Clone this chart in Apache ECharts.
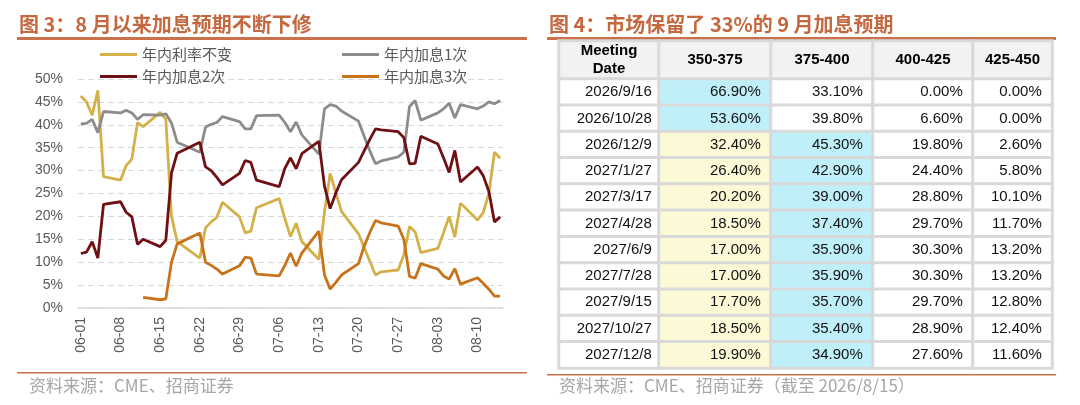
<!DOCTYPE html>
<html>
<head>
<meta charset="utf-8">
<script src="https://cdn.jsdelivr.net/npm/echarts@6/dist/echarts.min.js"></script>
<style>
html,body{margin:0;padding:0;background:#fff;}
#main{width:1080px;height:405px;}
</style>
</head>
<body>
<div id="main"></div>
<script>
// 图3 数据：交易日
var dates = ['06-01','06-02','06-03','06-04','06-05',
    '06-08','06-09','06-10','06-11','06-12',
    '06-15','06-16','06-17','06-18',
    '06-22','06-23','06-24','06-25','06-26',
    '06-29','06-30','07-01','07-02',
    '07-06','07-07','07-08','07-09','07-10',
    '07-13','07-14','07-15','07-16','07-17',
    '07-20','07-21','07-22','07-23','07-24',
    '07-27','07-28','07-29','07-30','07-31',
    '08-03','08-04','08-05','08-06','08-07',
    '08-10','08-11','08-12','08-13','08-14'];
var hold = [46.3,45.0,42.1,47.5,28.7, 27.9,31.1,32.5,40.5,39.6, 42.7,41.2,20.0,14.5,
    10.9,17.5,18.8,19.8,23.1, 19.9,16.4,16.8,21.9, 23.9,19.5,15.6,18.5,14.5,
    10.6,21.0,29.4,25.2,21.1, 16.2,13.2,10.2,7.2,7.9, 8.3,11.6,17.8,16.6,12.1,
    13.0,16.4,20.0,15.5,22.9, 19.2,20.8,25.0,34.0,32.7];
var hike1 = [40.2,40.3,41.2,38.3,42.9, 42.6,43.2,42.6,41.2,42.2, 42.1,42.4,40.4,36.2,
    34.0,39.5,40.1,40.5,41.8, 40.7,39.1,39.1,42.0, 42.1,40.5,38.5,40.6,37.8,
    33.6,43.5,44.4,44.1,43.0, 40.8,37.5,34.3,31.5,32.1, 33.0,34.0,44.0,45.3,41.0,
    42.6,43.5,44.7,41.5,44.4, 43.5,44.1,45.0,44.6,45.3];
var hike2 = [11.9,12.2,14.5,10.9,22.6, 23.2,20.9,19.9,13.9,15.0, 13.4,14.8,29.5,33.8,
    36.2,30.8,30.0,28.5,26.9, 29.4,32.2,31.8,27.9, 26.5,30.5,32.8,30.4,33.7,
    36.4,26.6,21.7,25.1,28.0, 31.8,34.3,36.8,39.1,38.9, 38.5,37.2,31.5,31.6,37.5,
    35.8,32.8,29.6,34.4,27.5, 30.8,28.9,25.5,18.8,19.9];
var hike3 = [null,null,null,null,null, null,null,null,null,2.3, 1.8,2.0,10.0,14.0,
    16.4,10.0,9.3,8.5,7.4, 9.2,11.1,10.9,7.4, 7.0,9.3,12.0,9.1,12.0,
    16.8,7.2,4.1,5.6,7.2, 9.7,13.5,16.5,19.1,18.6, 17.9,15.0,6.9,6.5,9.7,
    8.5,7.0,6.3,8.6,5.2, 6.6,5.4,4.1,2.6,2.6];
var seriesNames = ['年内利率不变','年内加息1次','年内加息2次','年内加息3次'];
var seriesColors = ['#d4b04a','#8c8c8c','#6f1014','#c8731b'];
var yTicks = [0, 50, 5];

// 图4 数据
var meetings = ['2026/9/16','2026/10/28','2026/12/9','2027/1/27','2027/3/17','2027/4/28',
    '2027/6/9','2027/7/28','2027/9/15','2027/10/27','2027/12/8'];
var ranges = ['350-375','375-400','400-425','425-450'];
var p350 = [66.9,53.6,32.4,26.4,20.2,18.5,17.0,17.0,17.7,18.5,19.9];
var p375 = [33.1,39.8,45.3,42.9,39.0,37.4,35.9,35.9,35.7,35.4,34.9];
var p400 = [0.0,6.6,19.8,24.4,28.8,29.7,30.3,30.3,29.7,28.9,27.6];
var p425 = [0.0,0.0,2.6,5.8,10.1,11.7,13.2,13.2,12.8,12.4,11.6];

function pad(n){ return (n < 10 ? '0' : '') + n; }

// 日历日作为类目轴
var allDays = [];
for (var t = Date.UTC(2026,5,1); t <= Date.UTC(2026,7,14); t += 86400000) {
    var dd = new Date(t);
    allDays.push(pad(dd.getUTCMonth()+1) + '-' + pad(dd.getUTCDate()));
}

function pairs(vals){
    var out = [];
    vals.forEach(function(v, i){ if (v != null) out.push([dates[i], v]); });
    return out;
}

var myChart = echarts.init(document.getElementById('main'));

var cjk = '"Noto Sans CJK SC", sans-serif';
var arial = '"Liberation Sans", Arial, sans-serif';

var grids = [{left: 78, top: 79, width: 425, height: 229}];
var xAxes = [{
    gridIndex: 0,
    type: 'category',
    data: allDays,
    boundaryGap: true,
    axisTick: {show: false},
    axisLine: {lineStyle: {color: '#d9d9d9', width: 1.5}},
    axisLabel: {interval: 6, rotate: 90, margin: 9, fontSize: 14, color: '#595959', fontFamily: arial}
}];
var yAxes = [{
    gridIndex: 0,
    type: 'value',
    min: yTicks[0], max: yTicks[1], interval: yTicks[2],
    axisLine: {show: false},
    axisTick: {show: false},
    axisLabel: {formatter: '{value}%', fontSize: 14, color: '#595959', margin: 15, fontFamily: arial},
    splitLine: {lineStyle: {color: '#d9d9d9', type: [6, 4], width: 1}}
}];

var series = [hold, hike1, hike2, hike3].map(function(vals, i){
    return {
        name: seriesNames[i],
        type: 'line',
        xAxisIndex: 0, yAxisIndex: 0,
        data: pairs(vals),
        symbol: 'none',
        color: seriesColors[i],
        lineStyle: {width: 2.8, color: seriesColors[i]}
    };
});

// 图例 2x2
var legendPos = [[95, 42], [337, 42], [95, 64], [337, 64]];
var legends = seriesNames.map(function(n, i){
    return {
        data: [n],
        left: legendPos[i][0], top: legendPos[i][1],
        icon: 'rect', itemWidth: 37, itemHeight: 3, itemGap: 5,
        textStyle: {fontSize: 15, color: '#595959', fontFamily: cjk}
    };
});

// 表格：每列一个表头 grid 和一个表体 grid
var colW = [100, 112, 102, 100, 79];
var tableLeft = 559, headTop = 41, headH = 38, bodyTop = 79, bodyH = 289;
var headers = ['Meeting\nDate'].concat(ranges);
var probCols = [p350, p375, p400, p425];
var cellBorder = '#d9d9d9';

var x0 = tableLeft;
colW.forEach(function(w, c){
    var gh = grids.length;
    grids.push({left: x0, top: headTop, width: w, height: headH});
    grids.push({left: x0, top: bodyTop, width: w, height: bodyH});
    x0 += w;
    [gh, gh + 1].forEach(function(g){
        xAxes.push({gridIndex: g, type: 'category', data: ['c'], show: false});
        yAxes.push({gridIndex: g, type: 'category', inverse: true, show: false,
            data: g === gh ? ['h'] : meetings});
    });
    series.push({
        type: 'heatmap',
        xAxisIndex: gh, yAxisIndex: gh,
        data: [{value: [0, 0, 1], itemStyle: {color: '#f2f2f2'}}],
        itemStyle: {borderColor: cellBorder, borderWidth: 3},
        label: {show: true, formatter: headers[c], fontSize: 15, fontWeight: 'bold',
            color: '#000', fontFamily: arial, lineHeight: 18},
        emphasis: {disabled: true}
    });
    var body = meetings.map(function(m, r){
        var color = '#ffffff';
        if (c > 0) {
            var row = probCols.map(function(col){ return col[r]; });
            var mx = Math.max.apply(null, row);
            if (probCols[c-1][r] === mx) color = '#bff0fa';
            else if (c === 1) color = '#fcf9d6';
        }
        return {value: [0, r, 1], itemStyle: {color: color}};
    });
    series.push({
        type: 'heatmap',
        xAxisIndex: gh + 1, yAxisIndex: gh + 1,
        data: body,
        itemStyle: {borderColor: cellBorder, borderWidth: 3},
        label: {
            show: true, position: 'insideRight', distance: c === 0 ? 9 : 12,
            fontSize: 15, color: '#111', fontFamily: arial,
            formatter: function(p){
                var r = p.data.value[1];
                return c === 0 ? meetings[r] : probCols[c-1][r].toFixed(2) + '%';
            }
        },
        emphasis: {disabled: true}
    });
});

var titleColor = '#c4683f';
var lineColor = '#c9714b';

var option = {
    animation: false,
    backgroundColor: '#fff',
    legend: legends,
    grid: grids,
    xAxis: xAxes,
    yAxis: yAxes,
    series: series,
    graphic: [
        {type: 'text', left: 19, top: 14, style: {text: '图 3：8 月以来加息预期不断下修', font: 'bold 20px ' + cjk, fill: titleColor}},
        {type: 'rect', shape: {x: 17, y: 37, width: 510, height: 3}, style: {fill: lineColor}},
        {type: 'rect', shape: {x: 17, y: 372, width: 510, height: 1.5}, style: {fill: lineColor}},
        {type: 'text', left: 29, top: 377, style: {text: '资料来源：CME、招商证券', font: '17px ' + cjk, fill: '#a6a6a6'}},
        {type: 'text', left: 549, top: 14, style: {text: '图 4：市场保留了 33%的 9 月加息预期', font: 'bold 20px ' + cjk, fill: titleColor}},
        {type: 'rect', shape: {x: 547, y: 37, width: 509, height: 3}, style: {fill: lineColor}},
        {type: 'rect', shape: {x: 547, y: 374, width: 509, height: 1.5}, style: {fill: lineColor}},
        {type: 'text', left: 559, top: 377, style: {text: '资料来源：CME、招商证券（截至 2026/8/15）', font: '17px ' + cjk, fill: '#a6a6a6'}}
    ]
};
myChart.setOption(option);
</script>
</body>
</html>
